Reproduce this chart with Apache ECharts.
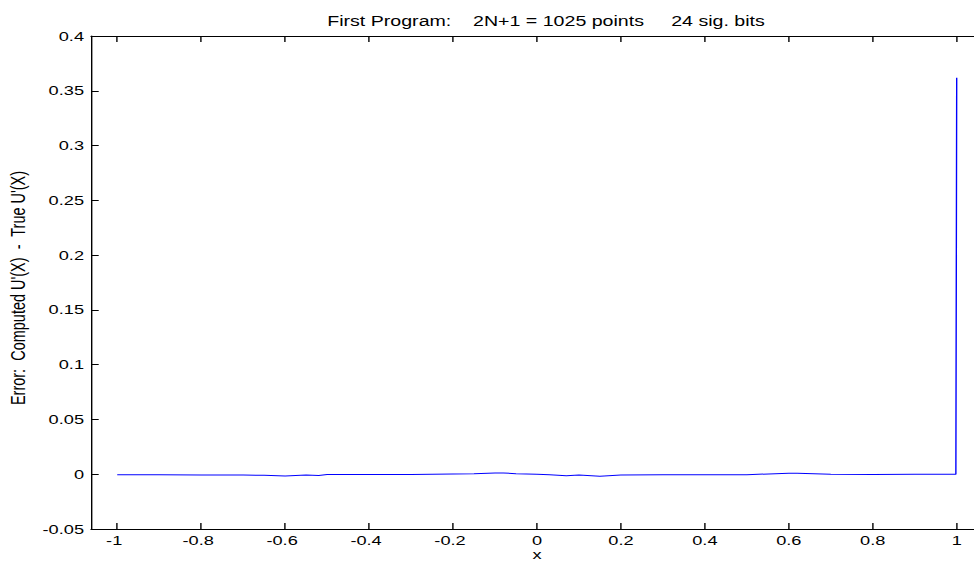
<!DOCTYPE html>
<html>
<head>
<meta charset="utf-8">
<script src="https://cdn.jsdelivr.net/npm/echarts@6/dist/echarts.min.js"></script>
<style>
html,body{margin:0;padding:0;background:#fff;overflow:hidden;width:974px;height:561px}
#c{width:710px;height:561px;transform:scaleX(1.4);transform-origin:0 0}
</style>
</head>
<body>
<div id="c"></div>
<script>
const titleText = 'First Program:    2N+1 = 1025 points     24 sig. bits';
const xName = 'x';
const yName = "Error:  Computed U'(X)  -  True U'(X)";
const xTicks = [-1, -0.8, -0.6, -0.4, -0.2, 0, 0.2, 0.4, 0.6, 0.8, 1];
const yTicks = [-0.05, 0, 0.05, 0.1, 0.15, 0.2, 0.25, 0.3, 0.35, 0.4];
const xs = [-1, -0.9, -0.8, -0.7, -0.65, -0.6, -0.55, -0.52, -0.5, -0.4, -0.3, -0.2, -0.15, -0.1, -0.08, -0.05, 0, 0.03, 0.07, 0.1, 0.15, 0.2, 0.3, 0.4, 0.5, 0.6, 0.62, 0.7, 0.8, 0.9, 0.998, 1];
const errs = [-0.0004, -0.0004, -0.0006, -0.0008, -0.0010, -0.0016, -0.0008, -0.0012, -0.0003, -0.0002, -0.0002, 0.0002, 0.0004, 0.0012, 0.0012, 0.0004, 0, -0.0004, -0.0015, -0.0008, -0.0018, -0.0006, -0.0005, -0.0005, -0.0004, 0.0008, 0.0010, 0.0000, -0.0002, 0.0000, 0.0000, 0.362];

const chart = echarts.init(document.getElementById('c'), null, {renderer: 'svg'});
const font = 'Liberation Sans';
const axisLineStyle = {color: '#000', width: 1};
const baseX = {
  type: 'value', min: -1.0625, max: 1.0625,
  splitLine: {show: false},
  axisLine: {show: true, onZero: false, lineStyle: axisLineStyle},
  axisTick: {show: true, inside: true, length: 6, lineStyle: axisLineStyle, customValues: xTicks}
};
const baseY = {
  type: 'value', min: -0.05, max: 0.4,
  splitLine: {show: false},
  axisLine: {show: true, onZero: false, lineStyle: axisLineStyle},
  axisTick: {show: true, inside: true, length: 5.5, lineStyle: axisLineStyle, customValues: yTicks}
};
chart.setOption({
  animation: false,
  backgroundColor: '#fff',
  title: {
    text: titleText, left: 385, top: 9, textAlign: 'center',
    textStyle: {fontFamily: font, fontSize: 14, fontWeight: 'normal', color: '#000'}
  },
  grid: {left: 65, top: 36, right: 7.9, bottom: 32, outerBoundsMode: 'none', containLabel: false},
  xAxis: [
    Object.assign({}, baseX, {
      position: 'bottom',
      axisLabel: {show: true, customValues: xTicks, margin: 5, fontFamily: font, fontSize: 13, color: '#000',
        formatter: v => {
          const s = String(Math.round(v * 10) / 10);
          return v < 0 ? '{n|' + s + '}{h|-}' : '{n|' + s + '}';
        },
        rich: {
          n: {fontFamily: font, fontSize: 13, color: '#000'},
          h: {fontFamily: font, fontSize: 13, color: 'rgba(0,0,0,0)'}
        }
      }
    }),
    Object.assign({}, baseX, {position: 'top', axisLabel: {show: false}})
  ],
  yAxis: [
    Object.assign({}, baseY, {
      position: 'left',
      axisLabel: {show: true, customValues: yTicks, margin: 5, fontFamily: font, fontSize: 13, color: '#000',
        formatter: v => String(Math.round(v * 100) / 100)}
    }),
    Object.assign({}, baseY, {position: 'right', axisLabel: {show: false}})
  ],
  graphic: [{
    type: 'text', x: 13, y: 288, rotation: Math.PI / 2,
    style: {text: yName, fontFamily: font, fontSize: 14.5, fill: '#000', textAlign: 'center', textVerticalAlign: 'middle'}
  }, {
    type: 'text', x: 383.6, y: 554.5,
    style: {text: xName, fontFamily: font, fontSize: 13, fill: '#000', textAlign: 'center', textVerticalAlign: 'middle'}
  }],
  series: [{
    type: 'line',
    data: xs.map((x, i) => [x, errs[i]]),
    showSymbol: false,
    symbol: 'none',
    lineStyle: {color: '#0000ff', width: 1},
    xAxisIndex: 0, yAxisIndex: 0
  }]
});
</script>
</body>
</html>
